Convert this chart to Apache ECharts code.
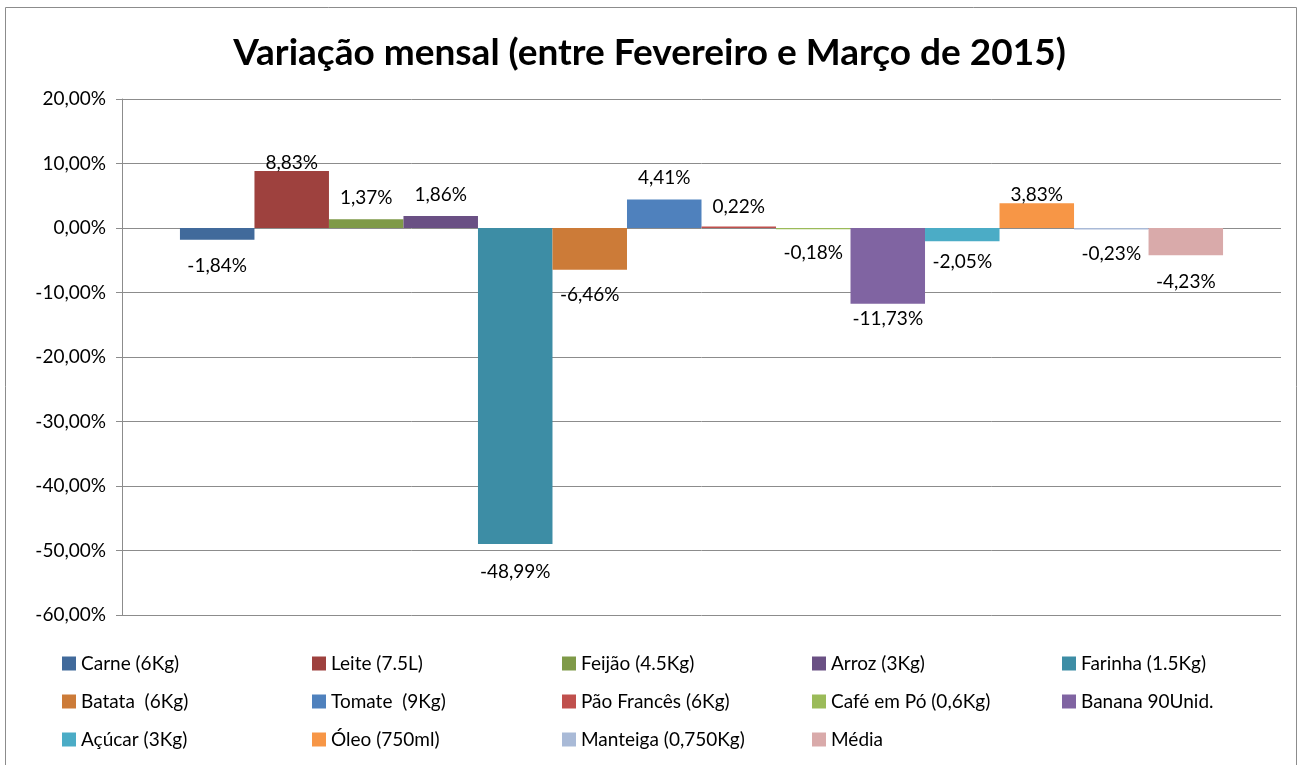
<!DOCTYPE html>
<html>
<head>
<meta charset="utf-8">
<title>Variação mensal</title>
<script src="https://cdn.jsdelivr.net/npm/echarts@6/dist/echarts.min.js"></script>
<style>
  html, body { margin: 0; padding: 0; background: #fff; }
  #chart { width: 1299px; height: 765px; }
</style>
</head>
<body>
<div id="chart"></div>
<script>
// dados (variação % fev -> mar 2015)
const itemNames = [
  "Carne (6Kg)", "Leite (7.5L)", "Feijão (4.5Kg)", "Arroz (3Kg)", "Farinha (1.5Kg)",
  "Batata  (6Kg)", "Tomate  (9Kg)", "Pão Francês (6Kg)", "Café em Pó (0,6Kg)", "Banana 90Unid.",
  "Açúcar (3Kg)", "Óleo (750ml)", "Manteiga (0,750Kg)", "Média"
]
const itemValues = [-1.84, 8.83, 1.37, 1.86, -48.99, -6.46, 4.41, 0.22, -0.18, -11.73, -2.05, 3.83, -0.23, -4.23]
const yTicks = { min: -60, max: 20, step: 10 }

const colors = [
  "#416a9b", "#9e413e", "#7f9a48", "#6a5084", "#3d8da5",
  "#cc7b38", "#4f81bd", "#c0504d", "#9bbb59", "#8064a2",
  "#4bacc6", "#f79646", "#a9bad7", "#d9aaaa"
]
// distancia do rotulo ate a ponta da barra (o excel deixou cada um num lugar)
const labelGaps = [17, -1, 12, 12, 18, 16, 12, 10, 14, 6, 11, -1, 15, 17]

const fontName = "Lato, 'Open Sans', sans-serif"
const fmt = (v) => v.toFixed(2).replace(".", ",") + "%"

const series = itemNames.map((name, i) => {
	const v = itemValues[i]
	return {
		name: name,
		type: "bar",
		barGap: "0%",
		barCategoryGap: "10%",
		data: [v],
		itemStyle: { color: colors[i] },
		label: {
			show: true,
			position: v >= 0 ? "top" : "bottom",
			distance: labelGaps[i],
			formatter: (p) => fmt(p.value),
			fontFamily: fontName,
			fontSize: 19,
			color: "#000"
		}
	}
})

const option = {
	animation: false,
	textStyle: { fontFamily: fontName },
	title: {
		text: "Variação mensal (entre Fevereiro e Março de 2015)",
		left: "center",
		top: 30,
		textStyle: { fontFamily: fontName, fontWeight: "bold", fontSize: 37, color: "#000" }
	},
	graphic: [{
		type: "rect",
		shape: { x: 5.5, y: 7.5, width: 1291, height: 800 },
		style: { fill: "none", stroke: "#8c8c8c", lineWidth: 1 },
		silent: true
	}],
	grid: { left: 122, right: 18, top: 99, bottom: 150 },
	legend: {
		left: 57,
		top: 648,
		width: 1250,
		itemWidth: 14,
		itemHeight: 14,
		itemGap: 17,
		icon: "rect",
		data: itemNames,
		textStyle: { fontFamily: fontName, fontSize: 19, color: "#000", width: 214, lineHeight: 21 }
	},
	xAxis: {
		type: "category",
		data: [""],
		axisLine: { show: false },
		axisTick: { show: false },
		axisLabel: { show: false }
	},
	yAxis: {
		type: "value",
		min: yTicks.min,
		max: yTicks.max,
		interval: yTicks.step,
		axisLine: { show: true, lineStyle: { color: "#8c8c8c", width: 1 } },
		axisTick: { show: true, length: 6, lineStyle: { color: "#8c8c8c" } },
		axisLabel: { formatter: fmt, fontFamily: fontName, fontSize: 19, color: "#000", margin: 16 },
		splitLine: { show: true, lineStyle: { color: "#8c8c8c", width: 1 } }
	},
	series: series
}

const myChart = echarts.init(document.getElementById("chart"))
myChart.setOption(option)
</script>
</body>
</html>
